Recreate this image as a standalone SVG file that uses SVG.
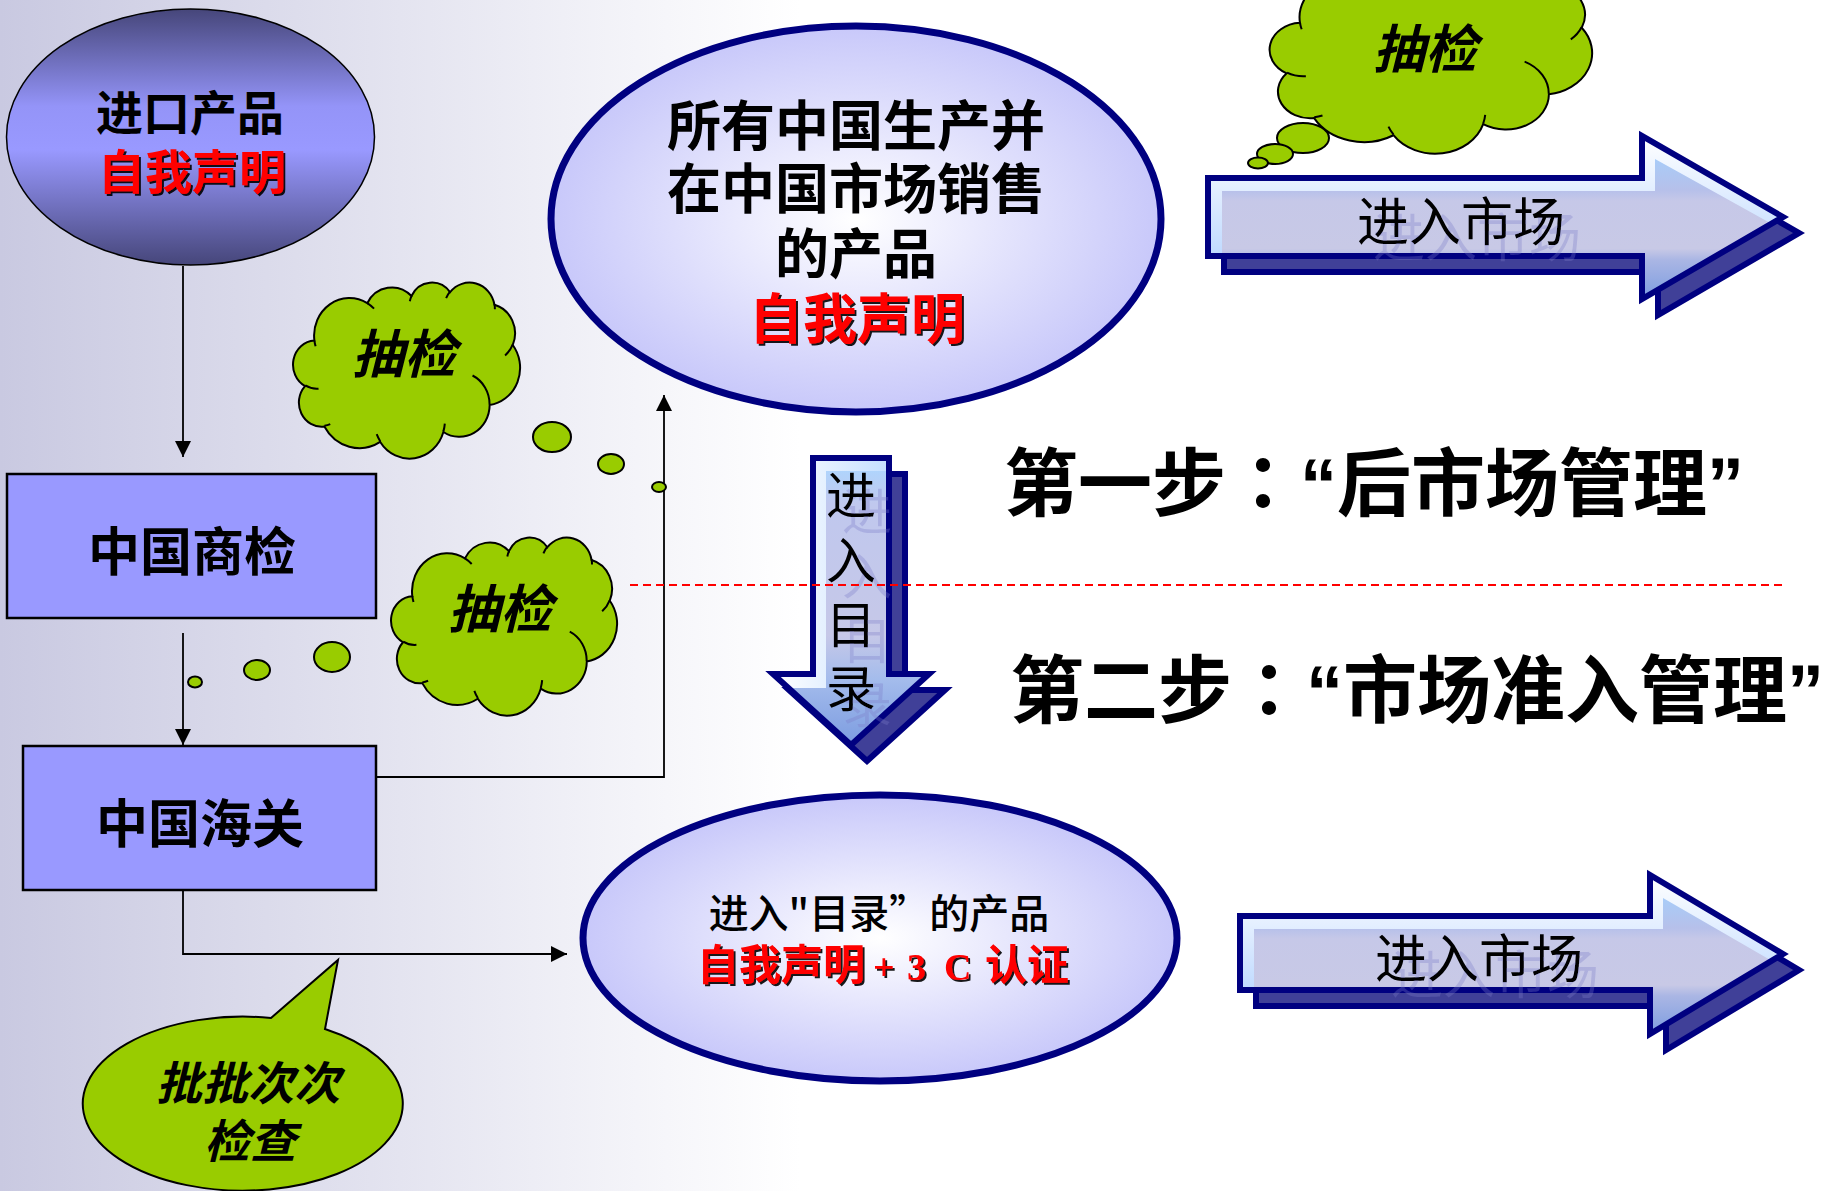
<svg xmlns="http://www.w3.org/2000/svg" xmlns:xlink="http://www.w3.org/1999/xlink" width="1829" height="1191" viewBox="0 0 1829 1191">
  <style>
    .cjk { font-family: "Noto Sans CJK SC", "Noto Sans", sans-serif; }
    .b { font-weight: 700; }
    .mid { text-anchor: middle; }
    .red { fill: #ff0000; }
    .ink { fill: #000000; }
    .it { font-style: italic; font-weight: 700; }
    .box { fill: #9999ff; stroke: #000; stroke-width: 2.5; }
    .link { fill: none; stroke: #000; stroke-width: 1.8; }
    .cloud-body { fill: #99cc00; stroke: #000; stroke-width: 2; vector-effect: non-scaling-stroke; }
    .cloud-fold { fill: none; stroke: #000; stroke-width: 2; vector-effect: non-scaling-stroke; }
    .bubble { fill: #99cc00; stroke: #000; stroke-width: 2; }
    .oval { stroke: #000080; stroke-width: 7; }
    .shadow-arrow { fill: #404098; stroke: #000080; stroke-width: 6; stroke-linejoin: miter; }
    .arrow-edge { fill: none; stroke: #000080; stroke-width: 6; stroke-linejoin: miter; }
  </style>
  <defs>
    <linearGradient id="bgGrad" gradientUnits="userSpaceOnUse" x1="0" y1="0" x2="800" y2="0">
      <stop offset="0" stop-color="#c9c9e1"/>
      <stop offset="1" stop-color="#ffffff"/>
    </linearGradient>
    <linearGradient id="darkOval" x1="0" y1="0" x2="0" y2="1">
      <stop offset="0" stop-color="#46467a"/>
      <stop offset="0.38" stop-color="#9494f8"/>
      <stop offset="0.55" stop-color="#9999ff"/>
      <stop offset="1" stop-color="#46467a"/>
    </linearGradient>
    <radialGradient id="paleOval" cx="0.5" cy="0.5" r="0.5">
      <stop offset="0" stop-color="#ffffff"/>
      <stop offset="1" stop-color="#c8c8fa"/>
    </radialGradient>
    <linearGradient id="rimH" x1="0" y1="0" x2="0" y2="1">
      <stop offset="0" stop-color="#ffffff"/>
      <stop offset="1" stop-color="#a8ccff"/>
    </linearGradient>
    <linearGradient id="coreH" x1="0" y1="0" x2="0" y2="1">
      <stop offset="0" stop-color="#a8ccf8"/>
      <stop offset="0.22" stop-color="#b6c0ea"/>
      <stop offset="0.3" stop-color="#c6c8e8"/>
      <stop offset="0.64" stop-color="#c8c9e6"/>
      <stop offset="0.72" stop-color="#aab6e4"/>
      <stop offset="1" stop-color="#7d9de0"/>
    </linearGradient>
    <linearGradient id="rimV" x1="0" y1="0" x2="1" y2="0">
      <stop offset="0" stop-color="#ffffff"/>
      <stop offset="1" stop-color="#b0d4ff"/>
    </linearGradient>
    <linearGradient id="coreV" x1="0" y1="0" x2="0" y2="1">
      <stop offset="0" stop-color="#b0d4fc"/>
      <stop offset="0.12" stop-color="#c0c8ee"/>
      <stop offset="0.6" stop-color="#c6c8e8"/>
      <stop offset="0.76" stop-color="#a4bcec"/>
      <stop offset="1" stop-color="#7c9ce0"/>
    </linearGradient>
    <filter id="redShadow" x="-10%" y="-20%" width="130%" height="150%">
      <feDropShadow dx="2" dy="2" stdDeviation="0.4" flood-color="#000" flood-opacity="0.9"/>
    </filter>
    <filter id="ghost" x="-10%" y="-20%" width="140%" height="160%">
      <feOffset in="SourceAlpha" dx="16" dy="16" result="moved"/>
      <feFlood flood-color="#7a7ac8" flood-opacity="0.32"/>
      <feComposite in2="moved" operator="in" result="faint"/>
      <feMerge><feMergeNode in="faint"/><feMergeNode in="SourceGraphic"/></feMerge>
    </filter>
    <marker id="tip" viewBox="0 0 10 10" refX="10" refY="5" markerUnits="userSpaceOnUse" markerWidth="16" markerHeight="16" orient="auto">
      <path d="M0,0 L10,5 L0,10 Z" fill="#000"/>
    </marker>
    <!-- cloud outline on a 100 x 100 grid -->
    <g id="cloudShape">
      <path class="cloud-body" d="M9.03,33.26 A15.63,21.27 0 0 1 32.42,12.04 A12.34,16.82 0 0 1 51.98,7.95 A10.10,13.76 0 0 1 69.06,5.75 A11.24,15.27 0 0 1 88.70,12.91 A12.34,16.84 0 0 1 96.80,35.79 A15.68,21.34 0 0 1 86.58,69.91 A13.39,18.21 0 0 1 66.10,85.21 A15.63,21.33 0 0 1 38.15,90.89 A17.87,24.41 0 0 1 13.44,82.11 A10.09,13.70 0 0 1 4.89,59.14 A10.06,13.76 0 0 1 9.03,33.26 Z"/>
      <path class="cloud-fold" d="M10.86,60.59 A10.06,13.76 0 0 1 5.00,58.75 M16.04,80.78 A10.09,13.70 0 0 1 13.47,81.67 M38.14,90.49 A15.63,21.33 0 0 1 36.60,86.45 M66.73,80.44 A15.63,21.33 0 0 1 66.11,84.86 M79.00,53.13 A13.39,18.21 0 0 1 86.53,69.65 M96.75,35.54 A12.34,16.84 0 0 1 93.40,41.74 M88.71,12.56 A11.24,15.27 0 0 1 88.89,15.49 M67.31,9.15 A11.24,15.27 0 0 1 69.03,5.41 M51.25,10.93 A10.10,13.76 0 0 1 52.08,7.71 M32.41,12.02 A15.63,21.27 0 0 1 35.42,15.14 M9.55,36.55 A15.63,21.27 0 0 1 9.03,33.27"/>
    </g>
    <path id="marketArrowTop" d="M1208,178 H1642 V136 L1783,217 L1642,299 V256 H1208 Z"/>
    <path id="marketArrowBottom" d="M1240,916 H1650 V875 L1783,954 L1650,1034 V990 H1240 Z"/>
    <path id="catalogArrow" d="M813,458 H889 V674 H929 L851,745 L773,674 H813 Z"/>
  </defs>

  <!-- backdrop -->
  <rect x="0" y="0" width="1829" height="1191" fill="url(#bgGrad)"/>

  <!-- connectors -->
  <g id="connectors">
    <path class="link" d="M183,266 V457" marker-end="url(#tip)"/>
    <path class="link" d="M183,633 V745" marker-end="url(#tip)"/>
    <path class="link" d="M376,777 H664 V395" marker-end="url(#tip)"/>
    <path class="link" d="M183,890 V954 H567" marker-end="url(#tip)"/>
  </g>

  <!-- imported products -->
  <g id="import-products">
    <ellipse cx="190.5" cy="137" rx="184" ry="128" fill="url(#darkOval)" stroke="#000" stroke-width="1.5"/>
    <text class="cjk b mid ink" x="190" y="130" font-size="47">进口产品</text>
    <text class="cjk b mid red" x="192" y="189" font-size="47" filter="url(#redShadow)">自我声明</text>
  </g>

  <!-- inspection office -->
  <g id="commodity-inspection">
    <rect class="box" x="7" y="474" width="369" height="144"/>
    <text class="cjk b mid ink" x="192" y="571" font-size="52">中国商检</text>
  </g>

  <!-- customs -->
  <g id="customs">
    <rect class="box" x="23" y="746" width="353" height="144"/>
    <text class="cjk b mid ink" x="200" y="843" font-size="52">中国海关</text>
  </g>

  <!-- spot check cloud near inspection -->
  <g id="spot-check-1">
    <use href="#cloudShape" transform="translate(294 282) scale(2.26 1.76)"/>
    <ellipse class="bubble" cx="552" cy="437" rx="19" ry="15"/>
    <ellipse class="bubble" cx="611" cy="464" rx="13" ry="10"/>
    <ellipse class="bubble" cx="659" cy="487" rx="7" ry="5"/>
    <text class="cjk it mid ink" x="404" y="373" font-size="52">抽检</text>
  </g>

  <!-- spot check cloud near customs -->
  <g id="spot-check-2">
    <use href="#cloudShape" transform="translate(392 537) scale(2.25 1.78)"/>
    <ellipse class="bubble" cx="332" cy="657" rx="18" ry="15"/>
    <ellipse class="bubble" cx="257" cy="670" rx="13" ry="10"/>
    <ellipse class="bubble" cx="195" cy="682" rx="7" ry="5.5"/>
    <text class="cjk it mid ink" x="500" y="628" font-size="52">抽检</text>
  </g>

  <!-- spot check cloud above market arrow -->
  <g id="spot-check-3">
    <use href="#cloudShape" transform="translate(1271 -42) scale(3.21 1.95)"/>
    <ellipse class="bubble" cx="1303" cy="138" rx="26" ry="15"/>
    <ellipse class="bubble" cx="1275" cy="154" rx="18" ry="10"/>
    <ellipse class="bubble" cx="1258" cy="163" rx="10" ry="5.5"/>
    <text class="cjk it mid ink" x="1425" y="68" font-size="52">抽检</text>
  </g>

  <!-- domestic products -->
  <g id="domestic-products">
    <ellipse class="oval" cx="856" cy="219" rx="305" ry="193" fill="url(#paleOval)"/>
    <text class="cjk b mid ink" font-size="54"><tspan x="856" y="146">所有中国生产并</tspan><tspan x="856" y="209">在中国市场销售</tspan><tspan x="856" y="274">的产品</tspan></text>
    <text class="cjk b mid red" x="857" y="339" font-size="54" filter="url(#redShadow)">自我声明</text>
  </g>

  <!-- catalogue products -->
  <g id="catalogue-products">
    <ellipse class="oval" cx="880" cy="938" rx="297" ry="143" fill="url(#paleOval)"/>
    <text class="cjk mid ink" x="879" y="928" font-size="40" font-weight="500">进入"目录”的产品</text>
    <text class="b red" y="980" filter="url(#redShadow)"><tspan class="cjk" x="697" font-size="42">自我声明</tspan><tspan x="873" font-family="Liberation Serif, serif" font-size="38">+</tspan><tspan x="907" font-family="Liberation Serif, serif" font-size="38">3</tspan><tspan x="944" font-family="Liberation Serif, serif" font-size="38">C</tspan><tspan class="cjk" x="985" font-size="42">认证</tspan></text>
  </g>

  <!-- market entry, upper -->
  <g id="market-entry-1">
    <use href="#marketArrowTop" class="shadow-arrow" transform="translate(16 16)"/>
    <use href="#marketArrowTop" fill="url(#rimH)"/>
    <path d="M1222,191 H1655 V159 L1772,224 L1642,299 V256 H1222 Z" fill="url(#coreH)"/>
    <use href="#marketArrowTop" class="arrow-edge"/>
    <text class="cjk mid ink" x="1461" y="241" font-size="52" filter="url(#ghost)">进入市场</text>
  </g>

  <!-- market entry, lower -->
  <g id="market-entry-2">
    <use href="#marketArrowBottom" class="shadow-arrow" transform="translate(16 16)"/>
    <use href="#marketArrowBottom" fill="url(#rimH)"/>
    <path d="M1254,929 H1663 V898 L1772,961 L1650,1034 V990 H1254 Z" fill="url(#coreH)"/>
    <use href="#marketArrowBottom" class="arrow-edge"/>
    <text class="cjk mid ink" x="1479" y="978" font-size="52" filter="url(#ghost)">进入市场</text>
  </g>

  <!-- catalogue entry -->
  <g id="catalogue-entry">
    <use href="#catalogArrow" class="shadow-arrow" transform="translate(16 16)"/>
    <use href="#catalogArrow" fill="url(#rimV)"/>
    <path d="M826,471 H889 V674 H929 L851,745 L789,688 H826 Z" fill="url(#coreV)"/>
    <use href="#catalogArrow" class="arrow-edge"/>
    <text class="cjk mid ink" font-size="50" filter="url(#ghost)"><tspan x="851" y="514">进</tspan><tspan x="851" y="579">入</tspan><tspan x="851" y="643">目</tspan><tspan x="851" y="707">录</tspan></text>
  </g>

  <!-- boundary between the two stages -->
  <line x1="630" y1="585" x2="1786" y2="585" stroke="#ff0000" stroke-width="2" stroke-dasharray="8 5"/>

  <!-- stage headings -->
  <g id="stage-1">
    <text class="b ink" font-family="Liberation Sans, Noto Sans CJK SC, sans-serif" x="1004" y="510" font-size="74"><tspan font-family="Noto Sans CJK SC, sans-serif">第一步</tspan><tspan font-family="Noto Sans CJK TC, sans-serif">：</tspan>“<tspan font-family="Noto Sans CJK SC, sans-serif">后市场管理</tspan>”</text>
  </g>
  <g id="stage-2">
    <text class="b ink" font-family="Liberation Sans, Noto Sans CJK SC, sans-serif" x="1010" y="717" font-size="74"><tspan font-family="Noto Sans CJK SC, sans-serif">第二步</tspan><tspan font-family="Noto Sans CJK TC, sans-serif">：</tspan>“<tspan font-family="Noto Sans CJK SC, sans-serif">市场准入管理</tspan>”</text>
  </g>

  <!-- batch-by-batch inspection callout -->
  <g id="batch-inspection">
    <path d="M271,1018 L338,960 L325,1029 A160,87 0 1 1 271,1018 Z" fill="#99cc00" stroke="#000" stroke-width="2"/>
    <text class="cjk it mid ink" font-size="46"><tspan x="248" y="1100">批批次次</tspan><tspan x="250" y="1158">检查</tspan></text>
  </g>
</svg>
